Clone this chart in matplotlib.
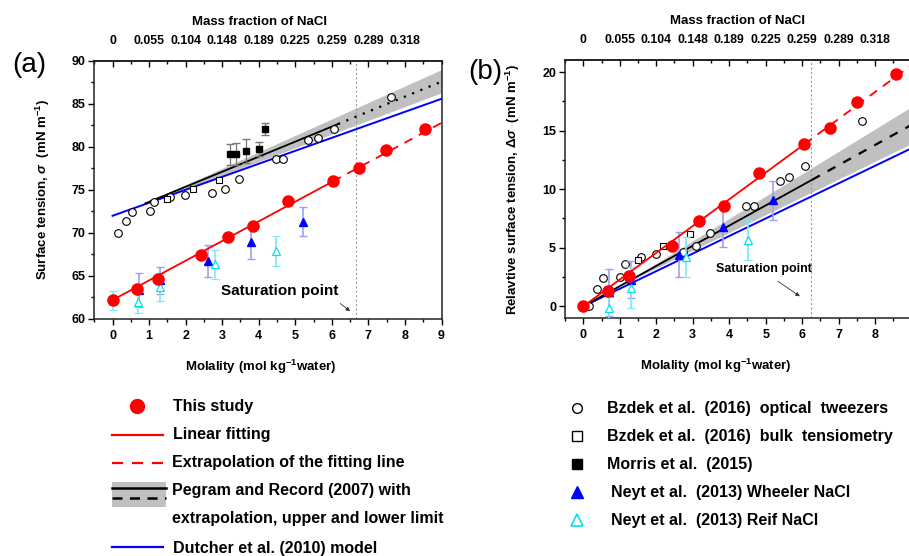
import numpy as np
import matplotlib
matplotlib.use('Agg')
import matplotlib.pyplot as plt
from matplotlib.ticker import MultipleLocator
from matplotlib.patches import Rectangle

plt.rcParams['font.family'] = ['Liberation Sans', 'DejaVu Sans']
plt.rcParams['font.weight'] = 'bold'
plt.rcParams['mathtext.fontset'] = 'custom'
plt.rcParams['mathtext.rm'] = 'Liberation Sans'
plt.rcParams['mathtext.it'] = 'Liberation Sans:italic'
plt.rcParams['mathtext.bf'] = 'Liberation Sans:bold'

# ---- top axis ----
frac_pos = [0, 1, 2, 3, 4, 5, 6, 7, 8]
frac_labels = ['0', '0.055', '0.104', '0.148', '0.189', '0.225', '0.259', '0.289', '0.318']
mol_ticks = [0, 1, 2, 3, 4, 5, 6, 7, 8, 9]

# ---- panel (a): surface tension ----
a_study_x = [0, 0.67, 1.25, 2.41, 3.16, 3.85, 4.80, 6.03, 6.75, 7.47, 8.56]
a_study_y = [62.2, 63.5, 64.7, 67.4, 69.5, 70.8, 73.7, 76.05, 77.5, 79.7, 82.06]
a_fit_x = [0, 6.03]
a_fit_y = [62.2, 76.0]
a_ext_x = [6.03, 9]
a_ext_y = [76.0, 82.8]
a_pr_x = [0.9, 6.17]
a_pr_y = [73.45, 82.67]
a_prext_x = [6.17, 9]
a_prext_y = [82.67, 87.6]
a_band_x = [1, 9]
a_band_lo = [73.5, 86.3]
a_band_hi = [73.7, 89.0]
a_dut_x = [0, 9]
a_dut_y = [72.0, 85.6]
a_tw_x = [0.15, 0.37, 0.53, 1.02, 1.13, 1.57, 1.98, 2.71, 3.07, 3.45, 4.47, 4.67, 5.36, 5.62, 6.06, 7.61]
a_tw_y = [70.0, 71.45, 72.4, 72.58, 73.6, 74.2, 74.45, 74.63, 75.15, 76.3, 78.57, 78.57, 80.76, 81.1, 82.06, 85.85]
a_bulk_x = [1.48, 2.19, 2.91]
a_bulk_y = [73.95, 75.15, 76.16]
a_mor_x = [3.21, 3.39, 3.66, 4.0, 4.16]
a_mor_y = [79.15, 79.2, 79.5, 79.8, 82.13]
a_mor_err = [1.25, 1.25, 1.4, 0.8, 0.7]
a_wh_x = [0.73, 1.29, 2.6, 3.8, 5.2]
a_wh_y = [63.4, 64.5, 66.7, 68.95, 71.3]
a_wh_err = [2.0, 1.6, 1.85, 2.0, 1.7]
a_rf_x = [0, 0.7, 1.29, 2.8, 4.48]
a_rf_y = [62.2, 62.0, 63.75, 66.35, 67.9]
a_rf_err = [1.1, 1.35, 1.65, 1.7, 1.7]
a_sat = 6.67

# ---- panel (b): relative surface tension ----
b_study_x = [0, 0.67, 1.25, 2.42, 3.17, 3.85, 4.81, 6.06, 6.76, 7.49, 8.56]
b_study_y = [0, 1.28, 2.56, 5.17, 7.25, 8.58, 11.37, 13.84, 15.26, 17.48, 19.84]
b_fit_x = [0, 6.06]
b_fit_y = [0, 13.84]
b_ext_x = [6.06, 9]
b_ext_y = [13.84, 20.6]
b_pr_x = [0, 6.27]
b_pr_y = [0, 10.8]
b_prext_x = [6.27, 9]
b_prext_y = [10.8, 15.5]
b_band_x = [1.2, 9]
b_band_lo = [2.05, 13.9]
b_band_hi = [2.15, 17.05]
b_dut_x = [0, 9]
b_dut_y = [0, 13.5]
b_tw_x = [0.15, 0.38, 0.54, 1.02, 1.13, 1.57, 1.98, 2.73, 3.08, 3.46, 4.47, 4.67, 5.38, 5.65, 6.09, 7.64]
b_tw_y = [0.0, 1.48, 2.42, 2.5, 3.61, 4.21, 4.47, 4.64, 5.17, 6.26, 8.58, 8.53, 10.72, 11.08, 12.02, 15.83]
b_bulk_x = [1.5, 2.19, 2.92]
b_bulk_y = [3.92, 5.17, 6.17]
b_wh_x = [0.7, 1.31, 2.62, 3.82, 5.2]
b_wh_y = [1.19, 2.28, 4.41, 6.77, 9.04]
b_wh_err = [2.0, 1.6, 1.9, 1.7, 1.67]
b_rf_x = [0.7, 1.31, 2.81, 4.51]
b_rf_y = [-0.14, 1.57, 4.18, 5.69]
b_rf_err = [0.95, 1.75, 1.7, 1.7]
b_sat = 6.23

RED = '#ff0000'
BLUE = '#0000ff'
CYAN = '#00e0ee'
WH_ERR = '#9f9ff2'
RF_ERR = '#80e8f2'
BAND = '#c0c0c0'

fig = plt.figure(figsize=(9.09, 5.56), dpi=100)
ax_a = fig.add_axes([0.1037, 0.4263, 0.382, 0.464])
ax_b = fig.add_axes([0.6216, 0.428, 0.3813, 0.4635])


def draw_panel(ax, d, pr_style):
    ax.fill_between(d['band_x'], d['band_lo'], d['band_hi'], color=BAND, lw=0, zorder=1)
    ax.plot(d['dut_x'], d['dut_y'], color=BLUE, lw=1.4, zorder=2)
    ax.plot(d['pr_x'], d['pr_y'], color='black', lw=1.3, zorder=3)
    ax.plot(d['prext_x'], d['prext_y'], color='black', lw=1.6, ls=pr_style, zorder=3)
    ax.axvline(d['sat'], color='#999999', lw=0.8, ls=(0, (2, 2)), zorder=1)
    ax.plot(d['tw_x'], d['tw_y'], 'o', ms=5.5, mfc='white', mec='black', mew=0.8, zorder=4)
    ax.plot(d['bulk_x'], d['bulk_y'], 's', ms=5, mfc='white', mec='black', mew=0.8, zorder=4)
    if 'mor_x' in d:
        ax.errorbar(d['mor_x'], d['mor_y'], yerr=d['mor_err'], fmt='s', ms=5, color='black',
                    ecolor='#777777', elinewidth=0.9, capsize=3, zorder=5)
    ax.errorbar(d['wh_x'], d['wh_y'], yerr=d['wh_err'], fmt='^', ms=6, color=BLUE,
                ecolor=WH_ERR, elinewidth=1.2, capsize=3, zorder=5)
    ax.errorbar(d['rf_x'], d['rf_y'], yerr=d['rf_err'], fmt='^', ms=6, mfc='white', mec=CYAN,
                mew=0.9, ecolor=RF_ERR, elinewidth=1.2, capsize=3, zorder=5)
    ax.plot(d['fit_x'], d['fit_y'], color=RED, lw=1.3, zorder=6)
    ax.plot(d['ext_x'], d['ext_y'], color=RED, lw=1.3, ls=(0, (5, 4)), zorder=6)
    ax.plot(d['study_x'], d['study_y'], 'o', ms=8, color=RED, zorder=7)

    ax.set_xlim(-0.5, 9)
    ax.set_xticks(mol_ticks, labels=[str(t) for t in mol_ticks])
    ax.xaxis.set_minor_locator(MultipleLocator(0.5))
    ax.tick_params(axis='both', which='major', direction='out', length=4, width=1,
                   labelsize=9, top=False, right=False)
    ax.tick_params(axis='both', which='minor', direction='out', length=2.5, width=1,
                   top=False, right=False)
    ax.tick_params(axis='x', pad=4)
    ax.tick_params(axis='y', pad=2.5)
    for s in ax.spines.values():
        s.set_linewidth(1.1)
        s.set_color('#222222')
    for lab in ax.get_xticklabels() + ax.get_yticklabels():
        lab.set_fontweight('bold')

    sec = ax.secondary_xaxis('top')
    sec.set_xticks(frac_pos, labels=frac_labels)
    sec.xaxis.set_minor_locator(MultipleLocator(0.5))
    sec.tick_params(which='major', direction='in', length=4, width=1, labelsize=8.8, pad=10)
    sec.tick_params(which='minor', direction='in', length=2.5, width=1)
    sec.spines['top'].set_linewidth(1.1)
    for lab in sec.get_xticklabels():
        lab.set_fontweight('bold')
    return sec


da = dict(study_x=a_study_x, study_y=a_study_y, fit_x=a_fit_x, fit_y=a_fit_y,
          ext_x=a_ext_x, ext_y=a_ext_y, pr_x=a_pr_x, pr_y=a_pr_y,
          prext_x=a_prext_x, prext_y=a_prext_y, band_x=a_band_x, band_lo=a_band_lo,
          band_hi=a_band_hi, dut_x=a_dut_x, dut_y=a_dut_y, tw_x=a_tw_x, tw_y=a_tw_y,
          bulk_x=a_bulk_x, bulk_y=a_bulk_y, mor_x=a_mor_x, mor_y=a_mor_y, mor_err=a_mor_err,
          wh_x=a_wh_x, wh_y=a_wh_y, wh_err=a_wh_err, rf_x=a_rf_x, rf_y=a_rf_y,
          rf_err=a_rf_err, sat=a_sat)
db = dict(study_x=b_study_x, study_y=b_study_y, fit_x=b_fit_x, fit_y=b_fit_y,
          ext_x=b_ext_x, ext_y=b_ext_y, pr_x=b_pr_x, pr_y=b_pr_y,
          prext_x=b_prext_x, prext_y=b_prext_y, band_x=b_band_x, band_lo=b_band_lo,
          band_hi=b_band_hi, dut_x=b_dut_x, dut_y=b_dut_y, tw_x=b_tw_x, tw_y=b_tw_y,
          bulk_x=b_bulk_x, bulk_y=b_bulk_y,
          wh_x=b_wh_x, wh_y=b_wh_y, wh_err=b_wh_err, rf_x=b_rf_x, rf_y=b_rf_y,
          rf_err=b_rf_err, sat=b_sat)

sec_a = draw_panel(ax_a, da, (0, (1, 3)))
sec_b = draw_panel(ax_b, db, (0, (4, 4)))

# the last molality label of panel (b) falls past the figure edge
ax_b.get_xticklabels()[-1].set_visible(False)

ax_a.set_ylim(60, 90)
ax_a.yaxis.set_major_locator(MultipleLocator(5))
ax_a.yaxis.set_minor_locator(MultipleLocator(2.5))
ax_b.set_ylim(-1, 21)
ax_b.yaxis.set_major_locator(MultipleLocator(5))
ax_b.yaxis.set_minor_locator(MultipleLocator(2.5))

ax_a.set_ylabel('Surface tension, $\\sigma$  (mN m$^{\\mathbf{-1}}$)', fontsize=9.5, fontweight='bold')
ax_a.yaxis.set_label_coords(-0.122, 0.5)
ax_b.set_ylabel('Relavtive surface tension, $\\Delta\\sigma$  (mN m$^{\\mathbf{-1}}$)',
                fontsize=9.5, fontweight='bold')
ax_b.yaxis.set_label_coords(-0.125, 0.5)

for ax, xc in [(ax_a, 0.479), (ax_b, 0.435)]:
    ax.set_xlabel('Molality (mol kg$^{\\mathbf{-1}}$water)', fontsize=9.5, fontweight='bold')
    ax.xaxis.set_label_coords(xc, -0.151)
for ax, xc in [(ax_a, 0.477), (ax_b, 0.498)]:
    ax.text(xc, 1.152, 'Mass fraction of NaCl', transform=ax.transAxes, ha='center',
            va='center', fontsize=9.5, fontweight='bold')

# saturation annotations
ax_a.annotate('', xy=(6.56, 60.7), xytext=(6.17, 62.0),
              arrowprops=dict(arrowstyle='-|>', color='#333333', lw=0.6, mutation_scale=6))
ax_a.text(4.58, 63.3, 'Saturation point', ha='center', va='center', fontsize=11, fontweight='bold')
ax_b.annotate('', xy=(6.0, 0.72), xytext=(5.27, 2.28),
              arrowprops=dict(arrowstyle='-|>', color='#333333', lw=0.6, mutation_scale=6))
ax_b.text(4.95, 3.19, 'Saturation point', ha='center', va='center', fontsize=9, fontweight='bold')

fig.text(29 / 909, 1 - 65 / 556, '(a)', fontsize=20, fontweight='normal', ha='center', va='center')
fig.text(485 / 909, 1 - 72 / 556, '(b)', fontsize=20, fontweight='normal', ha='center', va='center')

# ---- legend (pixel layout) ----
lax = fig.add_axes([0, 0, 1, 1])
lax.set_xlim(0, 909)
lax.set_ylim(556, 0)
lax.axis('off')
lfs = 11.5
lax.plot([137], [406], 'o', ms=10, color=RED)
lax.text(173, 407, 'This study', fontsize=lfs, va='center')
lax.plot([112, 163], [435, 435], color=RED, lw=1.6)
lax.text(173, 435, 'Linear fitting', fontsize=lfs, va='center')
lax.plot([112, 163], [463, 463], color=RED, lw=1.6, ls=(0, (5, 4)))
lax.text(172, 463, 'Extrapolation of the fitting line', fontsize=lfs, va='center')
lax.add_patch(Rectangle((112, 481.7), 54, 25.3, color=BAND, lw=0))
lax.plot([112, 166], [488, 488], color='black', lw=1.8)
lax.plot([112, 166], [498, 498], color='black', lw=1.8, ls=(0, (4, 3)))
lax.text(172, 491, 'Pegram and Record (2007) with', fontsize=lfs, va='center')
lax.text(172, 519, 'extrapolation, upper and lower limit', fontsize=lfs, va='center')
lax.plot([112, 163], [547, 547], color=BLUE, lw=1.6)
lax.text(173, 548, 'Dutcher et al. (2010) model', fontsize=lfs, va='center')

lax.plot([577], [408], 'o', ms=7, mfc='white', mec='black', mew=1)
lax.text(607, 409, 'Bzdek et al.  (2016)  optical  tweezers', fontsize=lfs, va='center')
lax.plot([577], [436], 's', ms=6.5, mfc='white', mec='black', mew=1)
lax.text(607, 437, 'Bzdek et al.  (2016)  bulk  tensiometry', fontsize=lfs, va='center')
lax.plot([577], [464], 's', ms=6.5, color='black')
lax.text(607, 465, 'Morris et al.  (2015)', fontsize=lfs, va='center')
lax.plot([577], [492], '^', ms=8, color=BLUE)
lax.text(611, 493, 'Neyt et al.  (2013) Wheeler NaCl', fontsize=lfs, va='center')
lax.plot([577], [520], '^', ms=8, mfc='white', mec=CYAN, mew=1.2)
lax.text(611, 521, 'Neyt et al.  (2013) Reif NaCl', fontsize=lfs, va='center')

fig.savefig('out.png', dpi=100)
